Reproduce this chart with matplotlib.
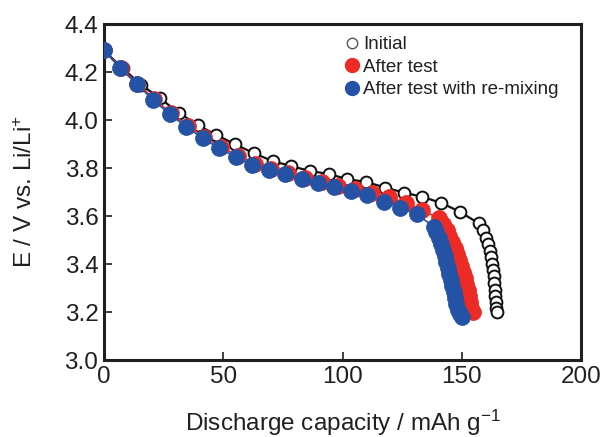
import matplotlib
matplotlib.use("Agg")
import matplotlib.pyplot as plt
from matplotlib.lines import Line2D

plt.rcParams['font.family'] = ['Liberation Sans', 'DejaVu Sans']
plt.rcParams['mathtext.fontset'] = 'custom'
plt.rcParams['mathtext.rm'] = 'Liberation Sans'
plt.rcParams['mathtext.it'] = 'Liberation Sans:italic'
plt.rcParams['mathtext.bf'] = 'Liberation Sans:bold'
plt.rcParams['mathtext.default'] = 'rm'

# Initial
init_x = [0, 7.85, 15.7, 23.55, 31.4, 39.25, 47.1, 54.95, 62.8, 70.65, 78.5, 86.35,
          94.2, 102.05, 109.9, 117.75, 125.6, 133.45, 141.3, 149.15,
          157.0, 158.7, 160.1, 161.1, 161.8, 162.3, 162.8, 163.1, 163.3, 163.6,
          163.8, 164.0, 164.2, 164.4, 164.6]
init_v = [4.29, 4.215, 4.146, 4.090, 4.030, 3.979, 3.938, 3.899, 3.862, 3.829, 3.808, 3.788,
          3.775, 3.754, 3.742, 3.719, 3.698, 3.680, 3.655, 3.618,
          3.57, 3.54, 3.51, 3.485, 3.455, 3.43, 3.40, 3.375, 3.35, 3.32,
          3.29, 3.265, 3.24, 3.215, 3.20]

# After test
red_x = [0, 7.02, 14.04, 21.06, 28.08, 35.1, 42.12, 49.14, 56.16, 63.18, 70.2, 77.22,
         84.24, 91.26, 98.28, 105.3, 112.32, 119.3, 126.4, 133.4, 140.4,
         142.3, 143.6, 144.8, 146.0, 147.1, 148.1, 149.0, 149.8, 150.6, 151.3,
         151.9, 152.5, 153.0, 153.5, 154.0, 154.5]
red_v = [4.29, 4.218, 4.152, 4.087, 4.028, 3.977, 3.929, 3.887, 3.852, 3.818, 3.797, 3.780,
         3.760, 3.743, 3.727, 3.711, 3.695, 3.68, 3.653, 3.625, 3.59,
         3.565, 3.54, 3.515, 3.49, 3.465, 3.44, 3.415, 3.39, 3.365, 3.34,
         3.315, 3.29, 3.265, 3.24, 3.215, 3.20]

# After test with re-mixing
blue_x = [0, 6.9, 13.8, 20.7, 27.6, 34.5, 41.4, 48.3, 55.2, 62.1, 69.0, 75.9,
          82.8, 89.7, 96.6, 103.5, 110.4, 117.3, 124.2, 131.1, 138.3,
          139.3, 140.3, 141.2, 142.0, 142.8, 143.5, 144.2, 144.8, 145.4, 146.0,
          146.5, 147.0, 147.6, 148.4, 149.2, 150.0]
blue_v = [4.29, 4.215, 4.149, 4.083, 4.024, 3.972, 3.924, 3.882, 3.847, 3.812, 3.792, 3.775,
          3.754, 3.737, 3.721, 3.704, 3.687, 3.66, 3.635, 3.607, 3.556,
          3.535, 3.51, 3.485, 3.46, 3.435, 3.41, 3.385, 3.36, 3.335, 3.31,
          3.285, 3.26, 3.235, 3.21, 3.19, 3.18]

labels = ["Initial", "After test", "After test with re-mixing"]
x_ticks = [0, 50, 100, 150, 200]
y_ticks = [3.0, 3.2, 3.4, 3.6, 3.8, 4.0, 4.2, 4.4]

RED = '#ec2a26'
BLUE = '#2453a6'
TXT = '#231f20'

fig = plt.figure(figsize=(6.01, 4.37), dpi=100)
ax = fig.add_axes([0.173, 0.176, 0.794, 0.769])

ax.plot(init_x, init_v, color='#111111', lw=1.6, marker='o', ms=8.5,
        mfc='white', mec='#111111', mew=1.4, zorder=2)
ax.plot(red_x, red_v, color=RED, lw=1.2, marker='o', ms=11.5,
        mfc=RED, mec=RED, mew=0.5, zorder=3)
ax.plot(blue_x, blue_v, color=BLUE, lw=1.2, marker='o', ms=11.5,
        mfc=BLUE, mec=BLUE, mew=0.5, zorder=4)

ax.set_xlim(0, 200)
ax.set_ylim(3.0, 4.4)
ax.set_xticks(x_ticks)
ax.set_yticks(y_ticks)
ax.set_xticklabels([str(t) for t in x_ticks])
ax.set_yticklabels([f"{t:.1f}" for t in y_ticks])
ax.tick_params(direction='in', length=6, width=1.2, labelsize=17.5, colors=TXT,
               top=False, right=False, pad=4)
for s in ax.spines.values():
    s.set_linewidth(2.2)
    s.set_color(TXT)

ax.set_xlabel("Discharge capacity / mAh g$^{\\mathregular{-1}}$", fontsize=17.5, color=TXT, labelpad=14.5)
ax.set_ylabel("E / V vs. Li/Li$^{\\mathregular{+}}$", fontsize=17.5, color=TXT, labelpad=20)

handles = [
    Line2D([], [], ls='none', marker='o', ms=7.5, mfc='white', mec='#555555', mew=1.0),
    Line2D([], [], ls='none', marker='o', ms=10, mfc=RED, mec=RED),
    Line2D([], [], ls='none', marker='o', ms=10, mfc=BLUE, mec=BLUE),
]
leg = ax.legend(handles, labels, loc='upper left', bbox_to_anchor=(0.48, 1.0),
                frameon=False, fontsize=13.5, handlelength=0.7, handletextpad=0.25,
                labelspacing=0.28, borderaxespad=0.25)
for t in leg.get_texts():
    t.set_color(TXT)

fig.savefig("out.png", dpi=100)
